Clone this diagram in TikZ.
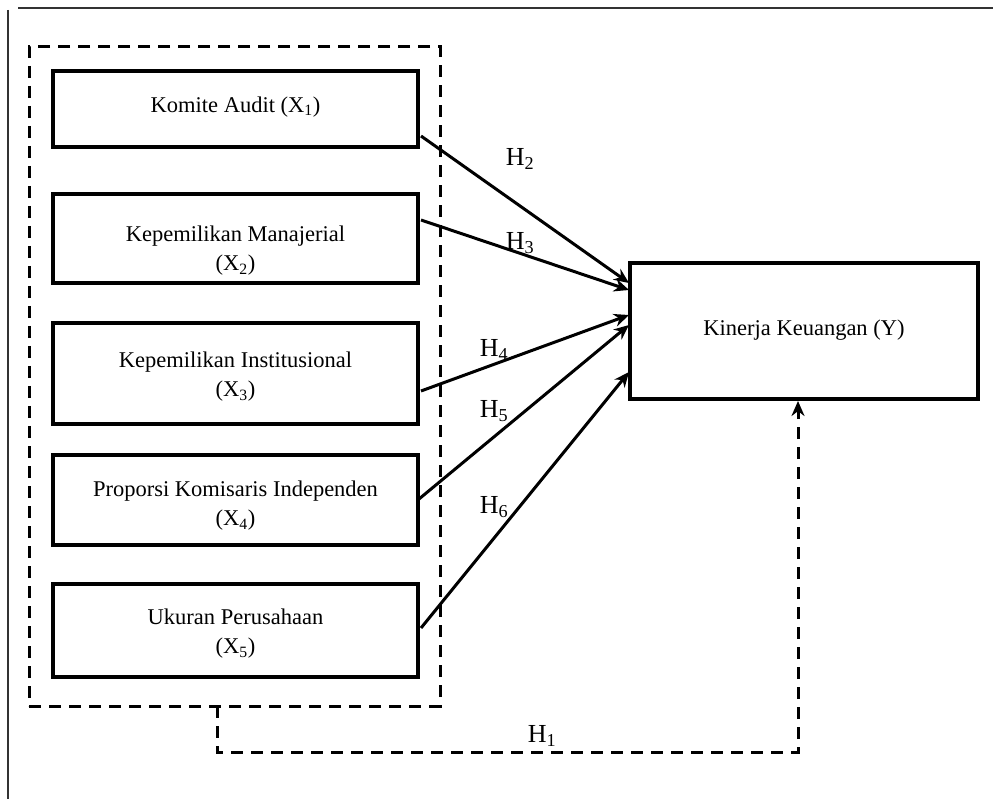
\documentclass[tikz,border=0pt]{standalone}
\usepackage{fontspec}
\setmainfont{Liberation Serif}
\usetikzlibrary{arrows.meta}
\begin{document}
\begin{tikzpicture}[x=1pt,y=-1pt,
  box/.style={draw, line width=4.5pt, rectangle, inner sep=0pt},
  dbox/.style={draw, line width=3pt, dash pattern=on 12pt off 8pt, rectangle, inner sep=0pt},
  txt/.style={font=\fontsize{22.5}{29}\selectfont, align=center, inner sep=0pt},
  hlab/.style={font=\fontsize{26}{30}\selectfont, inner sep=0pt},
  arr/.style={line width=3pt, -{Stealth[length=15pt,width=13pt]}},
  darr/.style={line width=3pt, dash pattern=on 12pt off 8pt, -{Stealth[length=15pt,width=13pt]}},
  border/.style={line width=1.2pt, black!80}]
\useasboundingbox (0,0) rectangle (993,799);
% page border lines
\coordinate (tl) at (18,8);
\coordinate (tr) at (993,8);
\coordinate (lt) at (8,10);
\coordinate (lb) at (8,799);
\draw[border] (tl) -- (tr);
\draw[border] (lt) -- (lb);
% group box
\node[dbox, minimum width=411pt, minimum height=659pt] (grp) at (234.5,376.5) {};
% boxes
\node[box, minimum width=365pt, minimum height=76pt] (b1) at (235.5,109) {};
\node[box, minimum width=365pt, minimum height=89pt] (b2) at (235.5,238.5) {};
\node[box, minimum width=365pt, minimum height=101pt] (b3) at (235.5,373.5) {};
\node[box, minimum width=365pt, minimum height=90pt] (b4) at (235.5,500) {};
\node[box, minimum width=365pt, minimum height=93pt] (b5) at (235.5,630.5) {};
\node[box, minimum width=348pt, minimum height=136pt] (Y) at (804,331) {};
% texts
\node[txt] (t1) at (235.5,107) {Komite Audit (X\textsubscript{1})};
\node[txt] (t2) at (235.5,251) {Kepemilikan Manajerial\\(X\textsubscript{2})};
\node[txt] (t3) at (235.5,377) {Kepemilikan Institusional\\(X\textsubscript{3})};
\node[txt] (t4) at (235.5,506) {Proporsi Komisaris Independen\\(X\textsubscript{4})};
\node[txt] (t5) at (235.5,634) {Ukuran Perusahaan\\(X\textsubscript{5})};
\node[txt] (tY) at (804,330) {Kinerja Keuangan (Y)};
% arrows
\coordinate (s2) at (421,136);
\coordinate (e2) at (629,283);
\coordinate (s3) at (421,220);
\coordinate (e3) at (629,290);
\coordinate (s4) at (421,391);
\coordinate (e4) at (629,315);
\coordinate (s5) at (419,499);
\coordinate (e5) at (629,325);
\coordinate (s6) at (421,628);
\coordinate (e6) at (629,372);
\draw[arr] (s2) -- (e2);
\draw[arr] (s3) -- (e3);
\draw[arr] (s4) -- (e4);
\draw[arr] (s5) -- (e5);
\draw[arr] (s6) -- (e6);
\node[hlab] (h2) at (520,159) {H\textsubscript{2}};
\node[hlab] (h3) at (520,243) {H\textsubscript{3}};
\node[hlab] (h4) at (494,350) {H\textsubscript{4}};
\node[hlab] (h5) at (494,411) {H\textsubscript{5}};
\node[hlab] (h6) at (494,507) {H\textsubscript{6}};
% H1 path
\coordinate (p1) at (217,706);
\coordinate (p2) at (217,752);
\coordinate (p3) at (798,752);
\coordinate (p4) at (798,401);
\draw[darr] (p1) -- (p2) -- (p3) -- (p4);
\node[hlab, inner sep=1pt] (h1) at (542,736) {H\textsubscript{1}};
\end{tikzpicture}
\end{document}
